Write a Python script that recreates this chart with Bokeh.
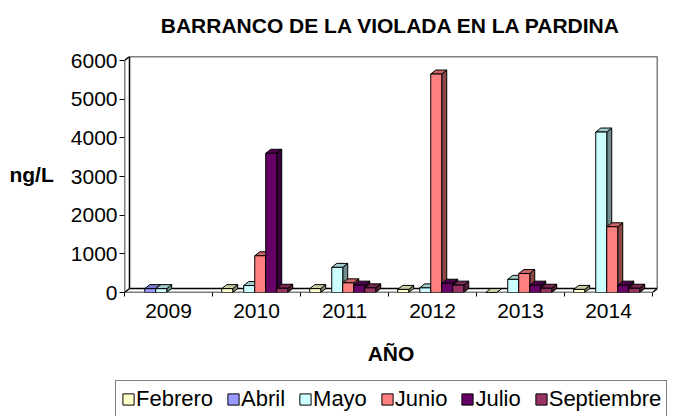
import math
from bokeh.plotting import figure
from bokeh.layouts import column
from bokeh.models import (ColumnDataSource, FixedTicker, Legend, LegendItem, Range1d, Label)
from bokeh.embed import file_html
from bokeh.resources import INLINE

nan = float("nan")

# ---------------- data ----------------
years = ["2009", "2010", "2011", "2012", "2013", "2014"]
months = ["Febrero", "Abril", "Mayo", "Junio", "Julio", "Septiembre"]
febrero = [nan, 100, 100, 80, 0, 80]
abril = [100, nan, nan, nan, nan, nan]
mayo = [100, 180, 650, 120, 340, 4150]
junio = [nan, 950, 250, 5650, 490, 1700]
julio = [nan, 3600, 190, 240, 190, 190]
septiembre = [nan, 110, 120, 190, 110, 110]
series = [febrero, abril, mayo, junio, julio, septiembre]
y_ticks = [0, 1000, 2000, 3000, 4000, 5000, 6000]

colors = ["#FFFFCC", "#9999FF", "#CCFFFF", "#FF8080", "#660066", "#993366"]

TITLE = "BARRANCO DE LA VIOLADA EN LA PARDINA"
FONT = "Liberation Sans"
FS = "21px"

# ---------------- geometry (3D look) ----------------
W = 677
H_TITLE, H_MAIN, H_LEG = 40, 340, 36
ML, MR, MT, MB = 124, 20, 16, 88
frame_w = W - ML - MR
frame_h = H_MAIN - MT - MB
DEPTH_PX_X, DEPTH_PX_Y = 5, 4
YMAX = 6000
px_per_unit = (frame_w - DEPTH_PX_X) / len(years)
DX = DEPTH_PX_X / px_per_unit
py_per_val = (frame_h - DEPTH_PX_Y) / YMAX
DY = DEPTH_PX_Y / py_per_val
BAR_W = 0.125
SHIFT = 0.02


def shade(hexcol, f):
    r = int(hexcol[1:3], 16); g = int(hexcol[3:5], 16); b = int(hexcol[5:7], 16)
    return "#%02x%02x%02x" % (int(r * f), int(g * f), int(b * f))


def strip(height, **kw):
    f = figure(width=W, height=height, output_backend="svg", toolbar_location=None,
               x_range=Range1d(0, W), y_range=Range1d(0, height),
               x_axis_location=None, y_axis_location=None, frame_align=False, **kw)
    f.grid.visible = False
    f.outline_line_color = None
    f.background_fill_color = "white"
    f.border_fill_color = "white"
    return f


# ---------------- title strip ----------------
pt = strip(H_TITLE, min_border=0)
pt.add_layout(Label(x=ML + (frame_w) / 2, y=15, text=TITLE, text_align="center",
                    text_baseline="middle", text_font=FONT, text_font_size=FS,
                    text_font_style="bold", text_color="black"))

# ---------------- main chart ----------------
p = figure(width=W, height=H_MAIN, output_backend="svg", toolbar_location=None,
           x_range=Range1d(0, len(years) + DX), y_range=Range1d(0, YMAX + DY),
           min_border_left=ML, min_border_right=MR, min_border_top=MT,
           min_border_bottom=MB, frame_align=False)
p.outline_line_color = None
p.xgrid.visible = False
p.ygrid.visible = False
p.background_fill_color = "white"
p.border_fill_color = "white"

# walls and floor
n = len(years)
wall_lines = [
    ([0, 0], [0, YMAX]),
    ([DX, DX], [DY, YMAX + DY]),
    ([0, DX], [YMAX, YMAX + DY]),
    ([DX, n + DX], [YMAX + DY, YMAX + DY]),
    ([n + DX, n + DX], [DY, YMAX + DY]),
    ([0, n], [0, 0]),
    ([DX, n + DX], [DY, DY]),
    ([0, DX], [0, DY]),
    ([n, n + DX], [0, DY]),
]
p.multi_line([w[0] for w in wall_lines], [w[1] for w in wall_lines],
             line_color="black", line_width=1.5)

for j, (name, vals, col) in enumerate(zip(months, series, colors)):
    xs_poly, ys_poly, fills = [], [], []
    left, right, top = [], [], []
    for i, v in enumerate(vals):
        if v is None or (isinstance(v, float) and math.isnan(v)):
            continue
        x0 = i + 0.5 + (j - 2.5) * BAR_W - SHIFT - BAR_W / 2
        x1 = x0 + BAR_W
        # side face
        xs_poly.append([x1, x1 + DX, x1 + DX, x1])
        ys_poly.append([0, DY, v + DY, v])
        fills.append(shade(col, 0.55))
        # top face
        xs_poly.append([x0, x1, x1 + DX, x0 + DX])
        ys_poly.append([v, v, v + DY, v + DY])
        fills.append(shade(col, 0.8))
        left.append(x0); right.append(x1); top.append(v)
    p.patches(xs_poly, ys_poly, fill_color=fills, line_color="black", line_width=1)
    src = ColumnDataSource(dict(left=left, right=right, top=top, bottom=[0] * len(top)))
    p.quad(left="left", right="right", top="top", bottom="bottom", source=src,
           fill_color=col, line_color="black", line_width=1)

# axes
xa = p.xaxis[0]
xa.ticker = FixedTicker(ticks=[i + 0.5 for i in range(n)], minor_ticks=list(range(n + 1)))
xa.major_label_overrides = {i + 0.5: y for i, y in enumerate(years)}
xa.axis_line_color = None
xa.major_tick_line_color = None
xa.major_tick_out = 4
xa.major_tick_in = 0
xa.minor_tick_line_color = "black"
xa.minor_tick_out = 4
xa.minor_tick_in = 0
xa.major_label_standoff = 7
xa.major_label_text_font = FONT
xa.major_label_text_font_size = FS
xa.major_label_text_color = "black"
xa.axis_label = "AÑO"
xa.axis_label_text_font = FONT
xa.axis_label_text_font_size = FS
xa.axis_label_text_font_style = "bold"
xa.axis_label_text_color = "black"
xa.axis_label_standoff = 21

ya = p.yaxis[0]
ya.ticker = FixedTicker(ticks=y_ticks, minor_ticks=[])
ya.axis_line_color = None
ya.major_tick_line_color = "black"
ya.major_tick_out = 5
ya.major_tick_in = 0
ya.minor_tick_line_color = None
ya.major_label_standoff = 2
ya.major_label_text_font = FONT
ya.major_label_text_font_size = FS
ya.major_label_text_color = "black"
ya.axis_label = "ng/L"
ya.axis_label_orientation = "horizontal"
ya.axis_label_text_font = FONT
ya.axis_label_text_font_size = FS
ya.axis_label_text_font_style = "bold"
ya.axis_label_text_color = "black"
ya.axis_label_standoff = 14

# ---------------- legend strip ----------------
pl = strip(H_LEG, min_border_left=115, min_border_top=0, min_border_bottom=0,
           min_border_right=0)
items = []
for name, col in zip(months, colors):
    # legend-only renderer: no visible mark (NaN row), just carries the style
    r = pl.quad(left=[nan], right=[nan], top=[nan], bottom=[nan], fill_color=col,
                line_color="black", line_width=1)
    items.append(LegendItem(label=name, renderers=[r]))
legend = Legend(items=items, orientation="horizontal", location="top_left",
                label_text_font=FONT, label_text_font_size="22px",
                label_text_color="black", glyph_width=14, glyph_height=14,
                label_standoff=1, spacing=13, padding=5, margin=0,
                border_line_color="black", border_line_width=1,
                background_fill_color="white", background_fill_alpha=1.0)
pl.add_layout(legend, "center")

layout = column(pt, p, pl, spacing=0)
open("out.html", "w").write(file_html(layout, INLINE))
